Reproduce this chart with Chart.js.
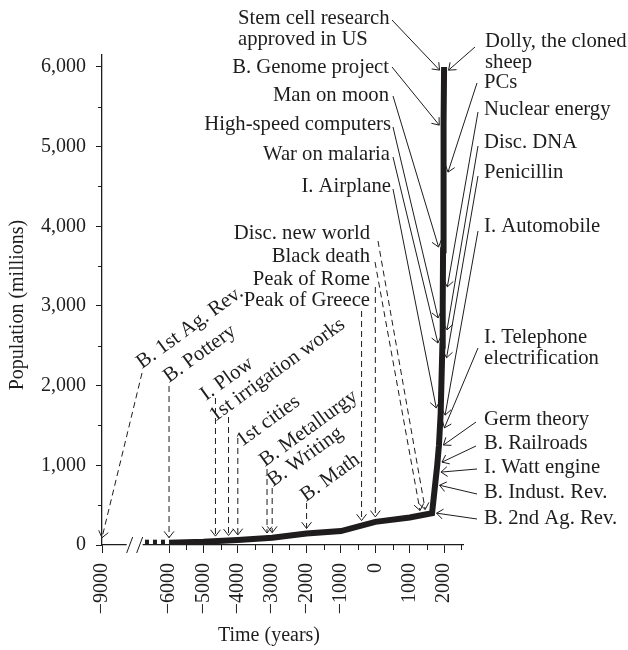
<!DOCTYPE html>
<html>
<head>
<meta charset="utf-8">
<script src="https://cdn.jsdelivr.net/npm/chart.js@4.4.1/dist/chart.umd.min.js"></script>
<style>
  html, body { margin: 0; padding: 0; background: #fff; }
</style>
</head>
<body>
<canvas id="popChart" width="628" height="650"></canvas>
<script>
// world population (millions) through time
const years = [-6000, -5000, -4000, -3000, -2000, -1000, 0, 1000, 1650, 1800, 1850, 1900, 1950, 1960, 1970, 1980, 1990, 2000];
const population = [29, 41, 63, 92, 145, 175, 290, 345, 400, 1000, 1250, 1650, 2500, 3000, 3700, 4400, 5300, 6000];

// dotted stub running into the axis break
const stubYears = [-6700, -6000];
const stubPop = [29, 29];

const xTickYears = [-9000, -6000, -5000, -4000, -3000, -2000, -1000, 0, 1000, 2000];
const xMinorYears = [-5500, -4500, -3500, -2500, -1500, -500, 500, 1500, 2500];
const yTicks = [0, 1000, 2000, 3000, 4000, 5000, 6000];
const yMinor = [500, 1500, 2500, 3500, 4500, 5500];

// events marked on the flat part (dashed arrows, placed by year)
const dropNames = ['B. 1st Ag. Rev.', 'B. Pottery', 'I. Plow', '1st irrigation works', '1st cities',
  'B. Metallurgy', 'B. Writing', 'B. Math', 'Peak of Greece', 'Peak of Rome', 'Black death', 'Disc. new world'];
const dropYears = [-9000, -6000, -4650, -4270, -4000, -3150, -3000, -2000, -400, 0, 1300, 1450];

// events marked on the steep part (solid arrows, placed by population level)
const riseNames = ['B. 2nd Ag. Rev.', 'B. Indust. Rev.', 'I. Watt engine', 'B. Railroads', 'Germ theory',
  'I. Telephone\nelectrification', 'I. Automobile', 'Penicillin', 'Disc. DNA', 'Nuclear energy', 'PCs',
  'Dolly, the cloned\nsheep', 'I. Airplane', 'War on malaria', 'High-speed computers', 'Man on moon',
  'B. Genome project', 'Stem cell research\napproved in US'];
const risePop = [400, 750, 915, 1040, 1255, 1470, 1630, 2350, 2700, 3240, 4680, 5960,
  1720, 2535, 2850, 3740, 5270, 5960];

// years before the break get pulled right so -9000 sits at the axis start
const BREAK_SHIFT = 1050;
const toAxis = yr => (yr <= -9000 ? yr + BREAK_SHIFT : yr);
const fmtYear = yr => (yr < 0 ? '\u2212' + Math.abs(yr) : String(yr));

const INK = '#1e1c1c';
const FONT = '"Liberation Serif", "Times New Roman", serif';

// label placement (pixels): text x, text y, leader start x/y, align
const dropLayout = [
  [142, 369, 142, 373, 'rot'],
  [169, 383, null, 386, 'rot'],
  [206, 401, null, 398, 'rot'],
  [215, 422, null, 417, 'rot'],
  [242, 447, null, 438, 'rot'],
  [265, 467, null, 469, 'rot'],
  [273, 487, null, 488, 'rot'],
  [306, 502, null, 503, 'rot'],
  [370, 300, null, 311, 'right'],
  [370, 279, null, 287, 'right'],
  [370, 256, 375, 262, 'right'],
  [370, 233, 378, 241, 'right']
];
const riseLayout = [
  ['R', 484, 518, 477, 519, 'left'],
  ['R', 484, 492, 477, 494, 'left'],
  ['R', 484, 467, 477, 469, 'left'],
  ['R', 484, 443, 476, 446, 'left'],
  ['R', 484, 419, 476, 422, 'left'],
  ['R', 484, 337, 478, 348, 'left'],
  ['R', 484, 226, 478, 231, 'left'],
  ['R', 484, 172, 478, 176, 'left'],
  ['R', 484, 142, 478, 146, 'left'],
  ['R', 484, 109, 478, 112, 'left'],
  ['R', 484, 82, 477, 83, 'left'],
  ['R', 485, 41, 475, 47, 'left'],
  ['L', 391, 186, 393, 189, 'right'],
  ['L', 390, 154, 393, 157, 'right'],
  ['L', 391, 124, 393, 127, 'right'],
  ['L', 389, 95, 393, 96, 'right'],
  ['L', 389, 67, 392, 67, 'right'],
  ['L', 238, 18, 392, 20, 'left']
];

function arrow(ctx, x0, y0, x1, y1, dashed) {
  ctx.save();
  ctx.setLineDash(dashed ? [6, 4] : []);
  ctx.beginPath();
  ctx.moveTo(x0, y0);
  ctx.lineTo(x1, y1);
  ctx.stroke();
  ctx.setLineDash([]);
  const a = Math.atan2(y1 - y0, x1 - x0), L = 8, h = 0.66;
  ctx.beginPath();
  ctx.moveTo(x1 - L * Math.cos(a - h), y1 - L * Math.sin(a - h));
  ctx.lineTo(x1, y1);
  ctx.lineTo(x1 - L * Math.cos(a + h), y1 - L * Math.sin(a + h));
  ctx.stroke();
  ctx.restore();
}

function multiText(ctx, text, x, midY) {
  text.split('\n').forEach((t, k) => ctx.fillText(t, x, midY + 6 + k * 21));
}

const annotate = {
  id: 'annotate',
  afterDraw(chart) {
    const { ctx, chartArea, scales: { x, y } } = chart;
    const pts = chart.getDatasetMeta(0).data;

    // x pixel of the curve at a given height (search from the steep end)
    const lineXAt = py => {
      for (let i = pts.length - 1; i > 0; i--) {
        const a = pts[i - 1], b = pts[i];
        if ((py - a.y) * (py - b.y) <= 0 && a.y !== b.y) {
          return a.x + (b.x - a.x) * (py - a.y) / (b.y - a.y);
        }
      }
      return pts[pts.length - 1].x;
    };
    const lineYAt = px => {
      if (px <= pts[0].x) return pts[0].y;
      for (let i = 1; i < pts.length; i++) {
        const a = pts[i - 1], b = pts[i];
        if (px >= a.x && px <= b.x) return a.y + (b.y - a.y) * (px - a.x) / (b.x - a.x);
      }
      return pts[pts.length - 1].y;
    };

    ctx.save();
    ctx.strokeStyle = INK;
    ctx.fillStyle = INK;
    ctx.lineWidth = 1;

    // minor ticks
    const bottom = chartArea.bottom, left = chartArea.left;
    xMinorYears.forEach(v => {
      const px = Math.round(x.getPixelForValue(v)) + 0.5;
      ctx.beginPath(); ctx.moveTo(px, bottom); ctx.lineTo(px, bottom + 5); ctx.stroke();
    });
    yMinor.forEach(v => {
      const py = Math.round(y.getPixelForValue(v)) + 0.5;
      ctx.beginPath(); ctx.moveTo(left - 4, py); ctx.lineTo(left, py); ctx.stroke();
    });

    // axis break
    const bc = x.getPixelForValue(-7000);
    ctx.fillStyle = '#fff';
    ctx.fillRect(bc - 8, bottom - 2, 16, 4);
    ctx.fillStyle = INK;
    [-5, 5].forEach(s => {
      ctx.beginPath(); ctx.moveTo(bc + s - 3, bottom + 8); ctx.lineTo(bc + s + 3, bottom - 8); ctx.stroke();
    });

    ctx.font = '20.7px ' + FONT;
    ctx.textBaseline = 'alphabetic';

    // dashed arrows down onto the curve
    dropNames.forEach((name, i) => {
      const [tx, ty, sx, sy, mode] = dropLayout[i];
      const px = x.getPixelForValue(toAxis(dropYears[i]));
      const py = lineYAt(px) - 5;
      arrow(ctx, sx === null ? px : sx, sy, px, py, true);
      if (mode === 'rot') {
        ctx.save();
        ctx.translate(tx, ty);
        ctx.rotate(-36 * Math.PI / 180);
        ctx.textAlign = 'left';
        ctx.fillText(name, 0, 0);
        ctx.restore();
      } else {
        ctx.textAlign = 'right';
        multiText(ctx, name, tx, ty);
      }
    });

    // solid arrows onto the steep part
    riseNames.forEach((name, i) => {
      const [side, tx, ty, sx, sy, align] = riseLayout[i];
      const py = y.getPixelForValue(risePop[i]);
      const px = lineXAt(py) + (side === 'R' ? 4.5 : -4.5);
      arrow(ctx, sx, sy, px, py, false);
      ctx.textAlign = align;
      multiText(ctx, name, tx, ty);
    });

    // axis titles
    ctx.font = '20px ' + FONT;
    ctx.textAlign = 'center';
    ctx.textBaseline = 'middle';
    ctx.fillText('Time (years)', 269, 636);
    ctx.save();
    ctx.translate(18, 305);
    ctx.rotate(-Math.PI / 2);
    ctx.fillText('Population (millions)', 0, 0);
    ctx.restore();
    ctx.restore();
  }
};

const ctx = document.getElementById('popChart').getContext('2d');
new Chart(ctx, {
  type: 'line',
  data: {
    datasets: [
      {
        data: years.map((yr, i) => ({ x: toAxis(yr), y: population[i] })),
        borderColor: INK,
        borderWidth: 6,
        borderJoinStyle: 'miter',
        borderCapStyle: 'butt',
        pointRadius: 0,
        tension: 0
      },
      {
        data: stubYears.map((yr, i) => ({ x: toAxis(yr), y: stubPop[i] })),
        borderColor: INK,
        borderWidth: 6,
        borderDash: [4, 4],
        borderCapStyle: 'butt',
        pointRadius: 0
      }
    ]
  },
  options: {
    responsive: false,
    animation: false,
    events: [],
    layout: { padding: { top: 55, right: 165, left: 0, bottom: 0 } },
    plugins: { legend: { display: false }, tooltip: { enabled: false } },
    scales: {
      x: {
        type: 'linear',
        min: -7950,
        max: 2550,
        afterFit: s => { s.height = 105; },
        afterBuildTicks: s => { s.ticks = xTickYears.map(v => ({ value: toAxis(v) })); },
        ticks: {
          autoSkip: false,
          minRotation: 90,
          maxRotation: 90,
          padding: 10,
          color: INK,
          font: { family: FONT, size: 20 },
          callback: (v, i) => fmtYear(xTickYears[i])
        },
        grid: { drawOnChartArea: false, drawTicks: true, tickLength: 8, tickColor: INK, tickWidth: 1 },
        border: { display: true, color: INK, width: 1.3 }
      },
      y: {
        min: 0,
        max: 6150,
        afterFit: s => { s.width = 102; },
        afterBuildTicks: s => { s.ticks = yTicks.map(v => ({ value: v })); },
        ticks: {
          padding: 10,
          color: INK,
          font: { family: FONT, size: 20 },
          callback: v => v.toLocaleString('en-US')
        },
        grid: { drawOnChartArea: false, drawTicks: true, tickLength: 6, tickColor: INK, tickWidth: 1 },
        border: { display: true, color: INK, width: 1.3 }
      }
    }
  },
  plugins: [annotate]
});
</script>
</body>
</html>
